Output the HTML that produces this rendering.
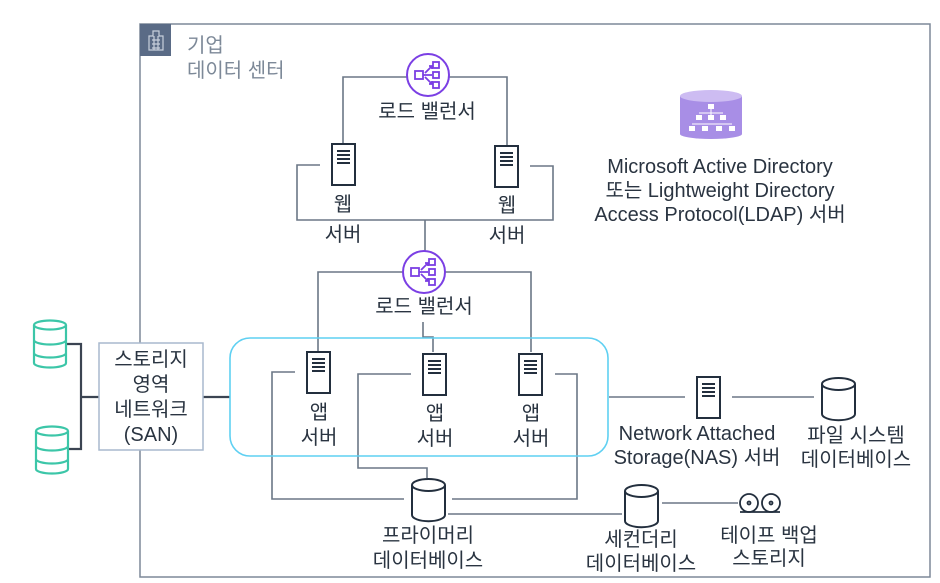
<!DOCTYPE html>
<html><head><meta charset="utf-8"><style>
html,body{margin:0;padding:0;background:#fff;width:940px;height:583px;overflow:hidden}
svg text{font-family:"Liberation Sans","Noto Sans CJK KR",sans-serif;font-size:20px;fill:#2a3441}
</style></head><body>
<svg width="940" height="583" viewBox="0 0 940 583" xmlns="http://www.w3.org/2000/svg">
<defs>
<g id="lb">
 <circle cx="0" cy="0" r="21" fill="#fff" stroke="#7b3fe4" stroke-width="2"/>
 <g fill="none" stroke="#7b3fe4" stroke-width="1.8">
  <rect x="-13" y="-4" width="8" height="8"/>
  <rect x="5" y="-13" width="6" height="6"/><rect x="5" y="-3" width="6" height="6"/><rect x="5" y="7" width="6" height="6"/>
  <path d="M-5 0 L4 0 M-3 -2 L4 -9 M-3 2 L4 9 M1 -9H4V-6 M1 0H4 M1 9H4V6"/>
 </g>
</g>
<g id="srv">
 <rect x="0" y="0" width="23" height="41" fill="#fff" stroke="#232f3e" stroke-width="2"/>
 <path d="M5 7h13M5 11h13M5 15h13M5 19h13" stroke="#232f3e" stroke-width="2"/>
</g>
<g id="cyl">
 <path d="M0 6 V36 A16 6 0 0 0 33 36 V6" fill="#fff" stroke="#232f3e" stroke-width="2"/>
 <ellipse cx="16.5" cy="6" rx="16.5" ry="6" fill="#fff" stroke="#232f3e" stroke-width="2"/>
</g>
<g id="gcyl" fill="none" stroke="#3cc6a8" stroke-width="2.2">
 <ellipse cx="17" cy="5" rx="16" ry="4.5"/>
 <path d="M1 5V43A16 4.5 0 0 0 33 43V5M1 20A16 4.5 0 0 0 33 20M1 33A16 4.5 0 0 0 33 33"/>
</g>
</defs>

<rect x="140" y="24" width="790" height="553" fill="none" stroke="#7d8998" stroke-width="1.5"/>
<rect x="140" y="24" width="31" height="32" fill="#5a6b86"/>
<g fill="none" stroke="#c8d0dc" stroke-width="1.2">
 <path d="M149 50V36h4v-5h6v5h4v14zM152 40h8M152 44h8M152 48h8M154 36v14M158 36v14"/>
</g>
<text x="187" y="52" style="fill:#7d8998">기업</text>
<text x="187" y="77" style="fill:#7d8998">데이터 센터</text>

<g fill="none" stroke="#6b7786" stroke-width="1.6">
 <path d="M343 144V77H507V145"/>
 <path d="M320 165H297V220H553V166H530"/>
 <path d="M425 220V252"/>
 <path d="M318 351V272H531V352"/>
 <path d="M423 322V337H433V352"/>
 <path d="M295 372H272V499H404"/>
 <path d="M411 374H358V468H427V478"/>
 <path d="M555 374H577V499H452"/>
 <path d="M448 514H622"/>
 <path d="M662 503H738"/>
 <path d="M609 397H685M732 397H814"/>
</g>
<g fill="none" stroke="#3b4452" stroke-width="2.2">
 <path d="M67 344H81V449H68M81 397H99"/>
 <path d="M203 397H230"/>
</g>
<rect x="230" y="338" width="378" height="118" rx="20" fill="none" stroke="#5fd0f2" stroke-width="1.6"/>

<use href="#lb" x="428" y="75"/>
<use href="#lb" x="424" y="272"/>
<text x="427" y="118" text-anchor="middle">로드 밸런서</text>
<text x="424" y="313" text-anchor="middle">로드 밸런서</text>

<use href="#srv" x="332" y="144"/>
<use href="#srv" x="495" y="146"/>
<text x="343" y="211" text-anchor="middle">웹</text>
<text x="343" y="241" text-anchor="middle">서버</text>
<text x="507" y="212" text-anchor="middle">웹</text>
<text x="507" y="242" text-anchor="middle">서버</text>

<use href="#srv" x="307" y="352"/>
<use href="#srv" x="423" y="354"/>
<use href="#srv" x="519" y="354"/>
<text x="319" y="419" text-anchor="middle">앱</text>
<text x="319" y="444" text-anchor="middle">서버</text>
<text x="435" y="420" text-anchor="middle">앱</text>
<text x="435" y="445" text-anchor="middle">서버</text>
<text x="531" y="420" text-anchor="middle">앱</text>
<text x="531" y="445" text-anchor="middle">서버</text>

<use href="#gcyl" x="33" y="320"/>
<use href="#gcyl" x="35" y="426"/>
<rect x="99" y="343" width="104" height="107" fill="#fff" stroke="#a9b9cd" stroke-width="1.5"/>
<text x="151" y="366" text-anchor="middle">스토리지</text>
<text x="151" y="391" text-anchor="middle">영역</text>
<text x="151" y="416" text-anchor="middle">네트워크</text>
<text x="151" y="441" text-anchor="middle">(SAN)</text>

<use href="#srv" x="697" y="377"/>
<use href="#cyl" x="822" y="378"/>
<text x="697" y="440" text-anchor="middle">Network Attached</text>
<text x="697" y="464" text-anchor="middle">Storage(NAS) 서버</text>
<text x="856" y="442" text-anchor="middle">파일 시스템</text>
<text x="856" y="466" text-anchor="middle">데이터베이스</text>

<use href="#cyl" x="412" y="479"/>
<use href="#cyl" x="625" y="485"/>
<text x="428" y="542" text-anchor="middle">프라이머리</text>
<text x="428" y="567" text-anchor="middle">데이터베이스</text>
<text x="641" y="546" text-anchor="middle">세컨더리</text>
<text x="641" y="570" text-anchor="middle">데이터베이스</text>
<g fill="none" stroke="#232f3e" stroke-width="1.8">
 <circle cx="749" cy="503" r="9"/><circle cx="771" cy="503" r="9"/>
 <path d="M740 512H780"/>
 <circle cx="749" cy="503" r="1.5"/><circle cx="771" cy="503" r="1.5"/>
</g>
<text x="769" y="542" text-anchor="middle">테이프 백업</text>
<text x="769" y="565" text-anchor="middle">스토리지</text>

<path d="M680 96V134A31 5 0 0 0 742 134V96Z" fill="#a88ee6"/>
<ellipse cx="711" cy="96" rx="31" ry="6" fill="#cdbcf2"/>
<g fill="#fff">
 <rect x="708" y="104" width="6" height="5"/>
 <rect x="696" y="115" width="6" height="5"/><rect x="708" y="115" width="6" height="5"/><rect x="720" y="115" width="6" height="5"/>
 <rect x="689" y="126" width="6" height="5"/><rect x="702" y="126" width="6" height="5"/><rect x="716" y="126" width="6" height="5"/><rect x="729" y="126" width="6" height="5"/>
</g>
<g stroke="#fff" stroke-width="1" fill="none"><path d="M711 109V115M699 113H723M692 124H732"/></g>
<text x="720" y="173" text-anchor="middle">Microsoft Active Directory</text>
<text x="720" y="197" text-anchor="middle">또는 Lightweight Directory</text>
<text x="720" y="221" text-anchor="middle">Access Protocol(LDAP) 서버</text>
</svg>
</body></html>
